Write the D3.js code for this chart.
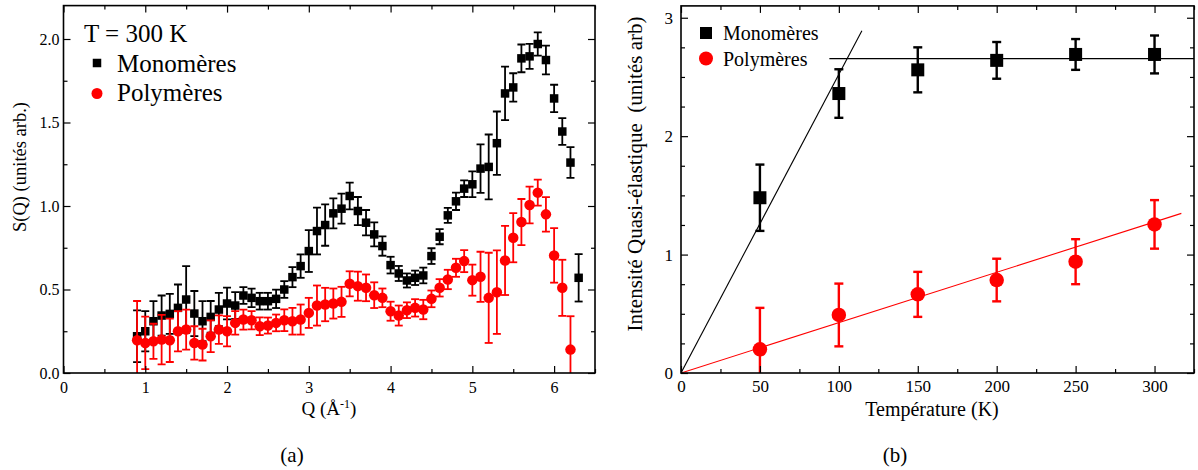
<!DOCTYPE html>
<html><head><meta charset="utf-8">
<script src="https://cdn.jsdelivr.net/npm/d3@7"></script>
<style>body{margin:0;background:#fff} text{font-family:"Liberation Serif","Times New Roman",serif;fill:#000}</style>
</head><body><svg id="c" width="1198" height="470"></svg>
<script>
// ---------- Panel (a) data ----------
const qMono = [0.9,1.0,1.1,1.2,1.3,1.4,1.5,1.6,1.7,1.8,1.9,2.0,2.1,2.2,2.3,2.4,2.5,2.6,2.7,2.8,2.9,3.0,3.1,3.2,3.3,3.4,3.5,3.6,3.7,3.8,3.9,4.0,4.1,4.2,4.3,4.4,4.5,4.6,4.7,4.8,4.9,5.0,5.1,5.2,5.3,5.4,5.5,5.6,5.7,5.8,5.9,6.0,6.1,6.2,6.3];
const sMono = [0.22,0.25,0.31,0.344,0.354,0.39,0.44,0.356,0.31,0.336,0.38,0.416,0.404,0.464,0.45,0.43,0.43,0.444,0.50,0.574,0.64,0.73,0.85,0.886,0.956,0.984,1.06,0.97,0.90,0.83,0.76,0.646,0.596,0.554,0.57,0.584,0.70,0.816,0.944,1.028,1.104,1.13,1.224,1.234,1.376,1.674,1.71,1.884,1.896,1.97,1.874,1.644,1.446,1.26,0.57];
const eMono = [0.155,0.12,0.12,0.12,0.12,0.14,0.20,0.135,0.12,0.095,0.10,0.095,0.08,0.05,0.055,0.05,0.05,0.055,0.05,0.06,0.07,0.125,0.14,0.124,0.09,0.09,0.08,0.084,0.076,0.072,0.058,0.05,0.045,0.042,0.043,0.047,0.047,0.045,0.045,0.052,0.05,0.077,0.145,0.194,0.19,0.16,0.085,0.083,0.075,0.07,0.086,0.082,0.08,0.092,0.142];
const qPoly = [0.9,1.0,1.1,1.2,1.3,1.4,1.5,1.6,1.7,1.8,1.9,2.0,2.1,2.2,2.3,2.4,2.5,2.6,2.7,2.8,2.9,3.0,3.1,3.2,3.3,3.4,3.5,3.6,3.7,3.8,3.9,4.0,4.1,4.2,4.3,4.4,4.5,4.6,4.7,4.8,4.9,5.0,5.1,5.2,5.3,5.4,5.5,5.6,5.7,5.8,5.9,6.0,6.1,6.2];
const sPoly = [0.196,0.18,0.19,0.20,0.196,0.25,0.26,0.18,0.17,0.22,0.26,0.25,0.30,0.32,0.316,0.28,0.284,0.30,0.316,0.31,0.32,0.36,0.404,0.41,0.416,0.426,0.534,0.52,0.51,0.466,0.45,0.37,0.344,0.376,0.39,0.38,0.444,0.51,0.56,0.63,0.67,0.556,0.576,0.45,0.484,0.674,0.81,0.904,1.006,1.08,0.95,0.704,0.51,0.14];
const ePoly = [0.235,0.157,0.105,0.148,0.13,0.12,0.12,0.10,0.095,0.095,0.085,0.09,0.07,0.06,0.055,0.053,0.048,0.05,0.065,0.08,0.09,0.09,0.12,0.10,0.09,0.09,0.075,0.087,0.08,0.077,0.056,0.057,0.06,0.047,0.052,0.058,0.05,0.052,0.058,0.054,0.066,0.093,0.15,0.27,0.25,0.207,0.147,0.138,0.11,0.078,0.103,0.163,0.168,0.20];
const qTicksA = [0,1,2,3,4,5,6];
const sTicksA = [0.0,0.5,1.0,1.5,2.0];

// ---------- Panel (b) data ----------
const temps = [50,100,150,200,250,300];
const iMono = [1.48,2.36,2.56,2.64,2.69,2.69];
const eMonoB = [0.28,0.205,0.19,0.155,0.13,0.16];
const iPoly = [0.20,0.49,0.664,0.785,0.94,1.255];
const ePolyB = [0.35,0.265,0.19,0.18,0.19,0.205];
const fitMonoRise = [[0,0],[114.6,2.89]];
const fitMonoFlat = [[94,2.655],[325,2.655]];
const fitPoly = [[0,0],[317,1.348]];
const tTicksB = [0,50,100,150,200,250,300];
const iTicksB = [0,1,2,3];

const svg = d3.select("#c");

function frame(g, x, y, xMajor, xMinor, yMajor, yMinor, xfmt, yfmt, fs, xPad, yPad){
  const [x0,x1] = x.range(), [y0,y1] = y.range();
  const L = 7, Ls = 4;
  const mk = (axis, tr) => { const a = g.append("g").attr("transform", tr).call(axis); a.select(".domain").remove(); a.selectAll("line").attr("stroke","#000").attr("stroke-width",1.2); a.selectAll("text").style("font-size",fs+"px").style("font-family",'"Liberation Serif",serif'); return a; };
  mk(d3.axisBottom(x).tickValues(xMajor).tickSize(-L).tickPadding(L+xPad).tickFormat(xfmt), `translate(0,${y0})`);
  mk(d3.axisBottom(x).tickValues(xMinor).tickSize(-Ls).tickFormat(""), `translate(0,${y0})`);
  mk(d3.axisTop(x).tickValues(xMajor).tickSize(-L).tickFormat(""), `translate(0,${y1})`);
  mk(d3.axisTop(x).tickValues(xMinor).tickSize(-Ls).tickFormat(""), `translate(0,${y1})`);
  mk(d3.axisLeft(y).tickValues(yMajor).tickSize(-L).tickPadding(L+yPad).tickFormat(yfmt), `translate(${x0},0)`);
  mk(d3.axisLeft(y).tickValues(yMinor).tickSize(-Ls).tickFormat(""), `translate(${x0},0)`);
  mk(d3.axisRight(y).tickValues(yMajor).tickSize(-L).tickFormat(""), `translate(${x1},0)`);
  mk(d3.axisRight(y).tickValues(yMinor).tickSize(-Ls).tickFormat(""), `translate(${x1},0)`);
  g.append("rect").attr("x",x0).attr("y",y1).attr("width",x1-x0).attr("height",y0-y1)
    .attr("fill","none").attr("stroke","#000").attr("stroke-width",1.6);
}

function errorSeries(g, x, y, xs, ys, es, color, shape, size, cap, sw){
  const d = xs.map((v,i)=>({x:v,y:ys[i],e:es[i]}));
  const eb = g.append("g").attr("stroke",color).attr("stroke-width",sw);
  d.forEach(p=>{
    const cx = x(p.x), yt = y(p.y+p.e), yb = y(p.y-p.e);
    eb.append("line").attr("x1",cx).attr("x2",cx).attr("y1",yt).attr("y2",yb);
    eb.append("line").attr("x1",cx-cap/2).attr("x2",cx+cap/2).attr("y1",yt).attr("y2",yt);
    eb.append("line").attr("x1",cx-cap/2).attr("x2",cx+cap/2).attr("y1",yb).attr("y2",yb);
  });
  if(shape==="square"){
    g.append("g").selectAll("rect").data(d).join("rect")
      .attr("x",p=>x(p.x)-size/2).attr("y",p=>y(p.y)-size/2).attr("width",size).attr("height",size).attr("fill",color);
  } else {
    g.append("g").selectAll("circle").data(d).join("circle")
      .attr("cx",p=>x(p.x)).attr("cy",p=>y(p.y)).attr("r",size/2).attr("fill",color);
  }
}

// ================= Panel (a) =================
const xa = d3.scaleLinear().domain([0,6.5]).range([63.5,595]);
const ya = d3.scaleLinear().domain([0,2.2]).range([373,5.6]);
const ga = svg.append("g");
ga.append("clipPath").attr("id","clipA").append("rect").attr("x",63.5).attr("y",5.6).attr("width",595-63.5).attr("height",373-5.6);
const pa = ga.append("g").attr("clip-path","url(#clipA)");
errorSeries(pa, xa, ya, qMono, sMono, eMono, "#000", "square", 8.5, 8, 1.8);
errorSeries(pa, xa, ya, qPoly, sPoly, ePoly, "#ff0000", "circle", 10.5, 8, 1.8);
frame(ga, xa, ya, qTicksA, [0.5,1.5,2.5,3.5,4.5,5.5,6.5], sTicksA, [0.25,0.75,1.25,1.75], d3.format("d"), d3.format(".1f"), 16, 2, -3);

ga.append("text").attr("x",84).attr("y",42).style("font-size","25px").text("T = 300 K");
ga.append("rect").attr("x",97-4.25).attr("y",63-4.25).attr("width",8.5).attr("height",8.5).attr("fill","#000");
ga.append("text").attr("x",117).attr("y",72).style("font-size","25px").text("Monomères");
ga.append("circle").attr("cx",97).attr("cy",93.5).attr("r",5.5).attr("fill","#ff0000");
ga.append("text").attr("x",117).attr("y",101).style("font-size","25px").text("Polymères");

ga.append("text").attr("transform","translate(26,167) rotate(-90)").attr("text-anchor","middle").style("font-size","18.5px").text("S(Q) (unités arb.)");
const qt = ga.append("text").attr("x",329).attr("y",415).attr("text-anchor","middle").style("font-size","19px");
qt.append("tspan").text("Q (Å");
qt.append("tspan").attr("dy",-7).style("font-size","12px").text("-1");
qt.append("tspan").attr("dy",7).text(")");
ga.append("text").attr("x",292).attr("y",462).attr("text-anchor","middle").style("font-size","21px").text("(a)");

// ================= Panel (b) =================
const xb = d3.scaleLinear().domain([0,325]).range([681,1194]);
const yb = d3.scaleLinear().domain([0,3.1]).range([373,5.9]);
const gb = svg.append("g");
gb.append("clipPath").attr("id","clipB").append("rect").attr("x",681).attr("y",5.9).attr("width",1194-681).attr("height",373-5.9);
const pb = gb.append("g").attr("clip-path","url(#clipB)");
const line = d3.line().x(d=>xb(d[0])).y(d=>yb(d[1]));
pb.append("path").attr("d",line(fitMonoRise)).attr("stroke","#000").attr("stroke-width",1.1).attr("fill","none");
pb.append("path").attr("d",line(fitMonoFlat)).attr("stroke","#000").attr("stroke-width",1.1).attr("fill","none");
pb.append("path").attr("d",line(fitPoly)).attr("stroke","#ff0000").attr("stroke-width",1.1).attr("fill","none");
errorSeries(pb, xb, yb, temps, iMono, eMonoB, "#000", "square", 13, 9, 2.4);
errorSeries(pb, xb, yb, temps, iPoly, ePolyB, "#ff0000", "circle", 14.5, 9, 2.4);
frame(gb, xb, yb, tTicksB, [25,75,125,175,225,275,325], iTicksB, [0.25,0.5,0.75,1.25,1.5,1.75,2.25,2.5,2.75], d3.format("d"), d3.format("d"), 17, 0, 1);

gb.append("rect").attr("x",706-6).attr("y",33-6).attr("width",12).attr("height",12).attr("fill","#000");
gb.append("text").attr("x",723).attr("y",40).style("font-size","20px").text("Monomères");
gb.append("circle").attr("cx",706).attr("cy",58.5).attr("r",7).attr("fill","#ff0000");
gb.append("text").attr("x",723).attr("y",65.5).style("font-size","20px").text("Polymères");

gb.append("text").attr("transform","translate(642,174) rotate(-90)").attr("text-anchor","middle").style("font-size","21px").style("white-space","pre").text("Intensité Quasi-élastique  (unités arb)");
gb.append("text").attr("x",932).attr("y",416).attr("text-anchor","middle").style("font-size","20px").text("Température (K)");
gb.append("text").attr("x",895).attr("y",462).attr("text-anchor","middle").style("font-size","21px").text("(b)");
</script></body></html>
